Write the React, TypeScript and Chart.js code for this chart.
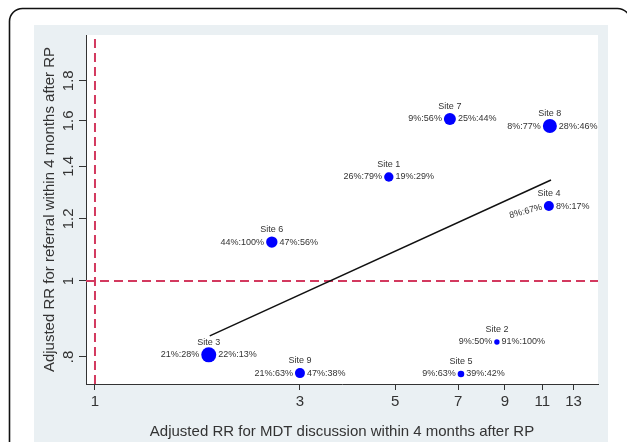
import React, { useEffect, useRef } from 'react';
import { Chart, registerables } from 'chart.js';

Chart.register(...registerables);

// ---- data ----
const siteNames = ['Site 1', 'Site 2', 'Site 3', 'Site 4', 'Site 5', 'Site 6', 'Site 7', 'Site 8', 'Site 9'];
const mdtRR = [4.83, 8.62, 1.84, 11.39, 7.11, 2.58, 6.7, 11.45, 3.0];
const referralRR = [1.357, 0.836, 0.805, 1.246, 0.761, 1.121, 1.609, 1.576, 0.763];
const siteWeight = [4.7, 2.7, 7.5, 5, 3.3, 5.7, 6, 7, 5];
const leftLabels = ['26%:79%', '9%:50%', '21%:28%', '8%:67%', '9%:63%', '44%:100%', '9%:56%', '8%:77%', '21%:63%'];
const rightLabels = ['19%:29%', '91%:100%', '22%:13%', '8%:17%', '39%:42%', '47%:56%', '25%:44%', '28%:46%', '47%:38%'];
const fitX = [1.85, 11.52];
const fitY = [0.851, 1.345];
const xTicks = [1, 3, 5, 7, 9, 11, 13];
const yTicks = [0.8, 1, 1.2, 1.4, 1.6, 1.8];
const yTickLabels = ['.8', '1', '1.2', '1.4', '1.6', '1.8'];
const xRange = [0.953, 14.82];
const yRange = [0.739, 2.059];
const refX = 1;
const refY = 1;

const FONT = "'Liberation Sans', Arial, Helvetica, sans-serif";
const TEXT = '#333333';
const REF_RED = '#d3395f';

const bgPlugin = {
  id: 'bgFrame',
  beforeDraw(chart: any) {
    const { ctx, chartArea, width, height } = chart;
    ctx.save();
    ctx.fillStyle = '#ffffff';
    ctx.fillRect(0, 0, width, height);
    ctx.beginPath();
    ctx.roundRect(9.5, 8.5, 621, 480, 13);
    ctx.lineWidth = 1.6;
    ctx.strokeStyle = '#111111';
    ctx.stroke();
    ctx.fillStyle = '#eaf0f3';
    ctx.fillRect(34, 25, 574, height);
    ctx.fillStyle = '#ffffff';
    ctx.fillRect(chartArea.left, chartArea.top, chartArea.right - chartArea.left, chartArea.bottom - chartArea.top);
    ctx.restore();
  },
};

const labelPlugin = {
  id: 'siteLabels',
  afterDatasetsDraw(chart: any) {
    const { ctx } = chart;
    const xs = chart.scales.x;
    const ys = chart.scales.y;
    ctx.save();
    ctx.fillStyle = TEXT;
    ctx.font = `9px ${FONT}`;
    ctx.textBaseline = 'middle';
    for (let i = 0; i < siteNames.length; i++) {
      const px = xs.getPixelForValue(mdtRR[i]);
      const py = ys.getPixelForValue(referralRR[i]);
      const r = siteWeight[i];
      ctx.textAlign = 'center';
      ctx.fillText(siteNames[i], px, py - 12.5);
      ctx.textAlign = 'left';
      ctx.fillText(rightLabels[i], px + r + 2, py);
      ctx.textAlign = 'right';
      if (siteNames[i] === 'Site 4') {
        ctx.save();
        ctx.translate(px - r - 2, py + 1);
        ctx.rotate(-15 * Math.PI / 180);
        ctx.fillText(leftLabels[i], 0, 0);
        ctx.restore();
      } else {
        ctx.fillText(leftLabels[i], px - r - 2, py);
      }
    }
    ctx.restore();
  },
};

export default function App() {
  const ref = useRef<HTMLCanvasElement | null>(null);

  useEffect(() => {
    document.body.style.margin = '0';
    const canvas = ref.current;
    if (!canvas) return;
    const chart = new Chart(canvas, {
      type: 'bubble',
      data: {
        datasets: [
          {
            type: 'line',
            data: [{ x: xRange[0], y: refY }, { x: xRange[1], y: refY }],
            borderColor: REF_RED,
            borderWidth: 2,
            borderDash: [9, 5],
            pointRadius: 0,
            fill: false,
            order: 3,
          } as any,
          {
            type: 'line',
            data: [{ x: refX, y: yRange[0] }, { x: refX, y: yRange[1] }],
            borderColor: REF_RED,
            borderWidth: 2,
            borderDash: [9, 5],
            pointRadius: 0,
            fill: false,
            order: 3,
          } as any,
          {
            type: 'line',
            data: fitX.map((x, i) => ({ x, y: fitY[i] })),
            borderColor: '#111111',
            borderWidth: 1.5,
            pointRadius: 0,
            fill: false,
            order: 2,
          } as any,
          {
            type: 'bubble',
            data: mdtRR.map((x, i) => ({ x, y: referralRR[i], r: siteWeight[i] })),
            backgroundColor: '#0000ff',
            borderColor: '#0000ff',
            borderWidth: 0,
            order: 1,
          } as any,
        ],
      },
      options: {
        responsive: false,
        animation: false,
        devicePixelRatio: 1,
        layout: { padding: { top: 35, right: 29, left: 0, bottom: 0 } },
        plugins: {
          legend: { display: false },
          tooltip: { enabled: false },
        },
        events: [],
        scales: {
          x: {
            type: 'logarithmic',
            bounds: 'data',
            min: xRange[0],
            max: xRange[1],
            afterFit(scale: any) { scale.height = 58; },
            afterBuildTicks(scale: any) { scale.ticks = xTicks.map((v) => ({ value: v })); },
            ticks: {
              autoSkip: false,
              maxRotation: 0,
              minRotation: 0,
              padding: 3,
              color: TEXT,
              font: { family: FONT, size: 15 },
              callback: (v: any) => String(v),
            },
            grid: { display: true, drawOnChartArea: false, drawTicks: true, tickLength: 6, color: '#333333', lineWidth: 1 },
            border: { display: true, color: '#333333', width: 1 },
            title: {
              display: true,
              text: 'Adjusted RR for MDT discussion within 4 months after RP',
              color: TEXT,
              font: { family: FONT, size: 15 },
              padding: { top: 0, bottom: 1 },
            },
          },
          y: {
            type: 'logarithmic',
            bounds: 'data',
            min: yRange[0],
            max: yRange[1],
            afterFit(scale: any) { scale.width = 86; },
            afterBuildTicks(scale: any) { scale.ticks = yTicks.map((v) => ({ value: v })); },
            ticks: {
              autoSkip: false,
              minRotation: 90,
              maxRotation: 90,
              crossAlign: 'center',
              padding: 0,
              color: TEXT,
              font: { family: FONT, size: 15 },
              callback: (v: any) => {
                const idx = yTicks.findIndex((t) => Math.abs(t - Number(v)) < 1e-9);
                return idx >= 0 ? yTickLabels[idx] : '';
              },
            },
            grid: { display: true, drawOnChartArea: false, drawTicks: true, tickLength: 7, color: '#333333', lineWidth: 1 },
            border: { display: true, color: '#333333', width: 1 },
            title: {
              display: true,
              text: 'Adjusted RR for referral within 4 months after RP',
              color: TEXT,
              font: { family: FONT, size: 15 },
              padding: { top: 41, bottom: 0 },
            },
          },
        },
      } as any,
      plugins: [bgPlugin, labelPlugin],
    });
    return () => chart.destroy();
  }, []);

  return (
    <div style={{ position: 'absolute', left: 0, top: 0, width: 627, height: 442 }}>
      <canvas ref={ref} width={627} height={442} style={{ display: 'block', width: 627, height: 442 }} />
    </div>
  );
}
